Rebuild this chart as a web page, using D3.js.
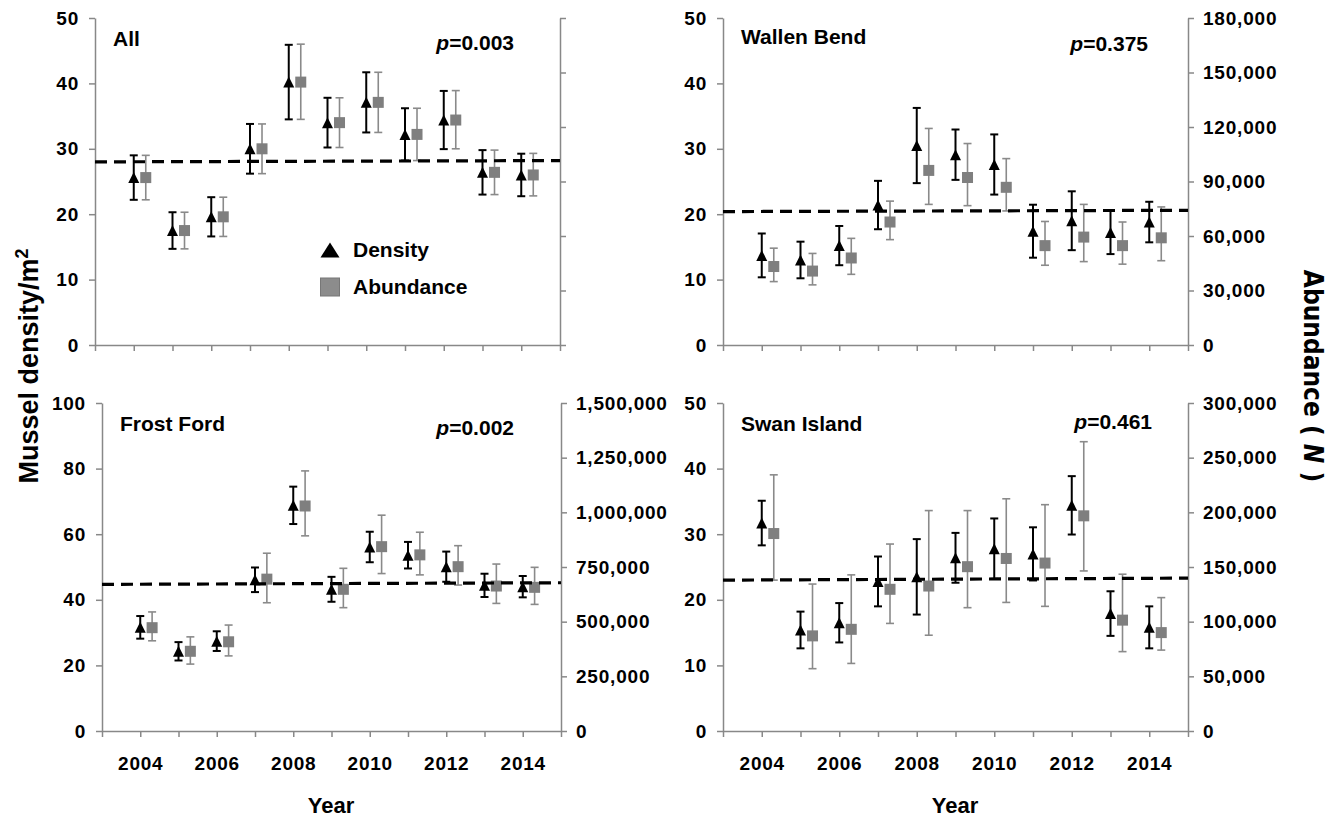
<!DOCTYPE html>
<html lang="en">
<head>
    <meta charset="UTF-8">
    <title>Mussel density and abundance, 2004-2014</title>
    <script src="https://d3js.org/d3.v7.min.js"></script>
    <style>
        body { margin: 0; background: #fff; }
        text { font-family: "Liberation Sans", Arial, sans-serif; font-weight: bold; fill: #000; }
        .axis path, .axis line { stroke: #888; stroke-width: 1.5px; }
        .axis text { font-size: 19px; letter-spacing: 0.8px; font-family: "Liberation Sans", Arial, sans-serif; font-weight: bold; fill: #000; }
    </style>
</head>
<body>
<svg width="1330" height="820"></svg>
<script>
var years = [2004, 2005, 2006, 2007, 2008, 2009, 2010, 2011, 2012, 2013, 2014];
var yearLabels = [2004, 2006, 2008, 2010, 2012, 2014];

// All sites (abundance axis has no labels, plotted on the density scale)
var allDensity   = [25.6, 17.5, 19.6, 30.0, 40.2, 34.0, 37.1, 32.2, 34.4, 26.4, 26.0];
var allDensitySE = [3.4, 2.8, 3.0, 3.8, 5.7, 3.8, 4.6, 4.0, 4.45, 3.4, 3.25];
var allAbund     = [25.6, 17.5, 19.6, 30.0, 40.2, 34.0, 37.1, 32.2, 34.4, 26.4, 26.0];
var allAbundLo   = [22.2, 14.7, 16.6, 26.2, 34.5, 30.2, 32.5, 28.2, 30.0, 23.0, 22.8];
var allAbundHi   = [29.0, 20.3, 22.6, 33.8, 46.0, 37.8, 41.7, 36.2, 38.9, 29.8, 29.3];
var allTrend     = [28.0, 28.2];

// Wallen Bend
var wbDensity   = [13.7, 13.0, 15.2, 21.4, 30.5, 29.1, 27.6, 17.4, 19.0, 17.2, 18.8];
var wbDensitySE = [3.35, 2.8, 3.0, 3.7, 5.75, 3.85, 4.6, 4.05, 4.5, 3.3, 3.1];
var wbAbund     = [43200, 40700, 47900, 67700, 96100, 92200, 86800, 54700, 59400, 54700, 59000];
var wbAbundLo   = [34900, 33100, 38900, 58000, 77400, 76700, 73800, 43900, 45900, 44500, 46400];
var wbAbundHi   = [53300, 50400, 58700, 79200, 119200, 110900, 102600, 68000, 77400, 67700, 76000];
var wbTrend     = [20.4, 20.6];

// Frost Ford
var ffDensity   = [31.6, 24.3, 27.4, 46.1, 68.8, 43.2, 56.1, 53.6, 50.1, 44.4, 44.0];
var ffDensitySE = [3.45, 2.8, 3.0, 3.75, 5.7, 3.8, 4.65, 4.05, 4.6, 3.55, 3.25];
var ffAbund     = [472500, 364500, 408000, 694500, 1029000, 648000, 843000, 805500, 751500, 663000, 657000];
var ffAbundLo   = [412500, 306000, 343500, 586500, 892500, 564000, 720000, 714000, 667500, 583500, 579000];
var ffAbundHi   = [544500, 430500, 484500, 813000, 1189500, 744000, 987000, 909000, 847500, 763500, 748500];
var ffTrend     = [44.7, 45.2];

// Swan Island
var siDensity   = [31.7, 15.4, 16.5, 22.8, 23.5, 26.4, 27.8, 27.0, 34.4, 17.9, 15.8];
var siDensitySE = [3.4, 2.8, 3.0, 3.8, 5.75, 3.8, 4.6, 4.05, 4.45, 3.4, 3.2];
var siAbund     = [180600, 87000, 93000, 129600, 132600, 150300, 157800, 153600, 196800, 101400, 90000];
var siAbundLo   = [138000, 57000, 61800, 98400, 87600, 112800, 117600, 114000, 146400, 72600, 74000];
var siAbundHi   = [234300, 134400, 142800, 171000, 201600, 201600, 212400, 207000, 264600, 143400, 122000];
var siTrend     = [23.0, 23.3];

var panels = [
    { name: "All", p: "0.003", left: 95, right: 560, top: 18, bottom: 345, yMax: 50, yStep: 10,
      rMax: 50, rLabels: false, xLabels: false, pX: 514, pY: 50, tY: 46,
      density: allDensity, se: allDensitySE, abund: allAbund, lo: allAbundLo, hi: allAbundHi, trend: allTrend },
    { name: "Wallen Bend", p: "0.375", left: 723, right: 1188, top: 18, bottom: 345, yMax: 50, yStep: 10,
      rMax: 180000, rLabels: true, xLabels: false, pX: 1148, pY: 51, tY: 44,
      density: wbDensity, se: wbDensitySE, abund: wbAbund, lo: wbAbundLo, hi: wbAbundHi, trend: wbTrend },
    { name: "Frost Ford", p: "0.002", left: 102, right: 561, top: 403, bottom: 731, yMax: 100, yStep: 20,
      rMax: 1500000, rLabels: true, xLabels: true, pX: 514, pY: 435, tY: 431,
      density: ffDensity, se: ffDensitySE, abund: ffAbund, lo: ffAbundLo, hi: ffAbundHi, trend: ffTrend },
    { name: "Swan Island", p: "0.461", left: 723, right: 1188, top: 403, bottom: 731, yMax: 50, yStep: 10,
      rMax: 300000, rLabels: true, xLabels: true, pX: 1152, pY: 429, tY: 431,
      density: siDensity, se: siDensitySE, abund: siAbund, lo: siAbundLo, hi: siAbundHi, trend: siTrend }
];

var svg = d3.select("svg");
var shift = 0.31;   // abundance drawn a little right of density
var cap = 4;

function triangle(cx, cy, w, h) {
    return "M" + cx + "," + (cy - h / 2) + "L" + (cx + w / 2) + "," + (cy + h / 2) +
           "L" + (cx - w / 2) + "," + (cy + h / 2) + "Z";
}

function errorBar(g, x, y1, y2, color, width) {
    g.append("line").attr("x1", x).attr("x2", x).attr("y1", y1).attr("y2", y2)
        .attr("stroke", color).attr("stroke-width", width);
    [y1, y2].forEach(function(yy) {
        g.append("line").attr("x1", x - cap).attr("x2", x + cap).attr("y1", yy).attr("y2", yy)
            .attr("stroke", color).attr("stroke-width", width);
    });
}

panels.forEach(function(p) {
    var x = d3.scaleLinear().domain([2003, 2015]).range([p.left, p.right]);
    var y = d3.scaleLinear().domain([0, p.yMax]).range([p.bottom, p.top]);
    var y2 = d3.scaleLinear().domain([0, p.rMax]).range([p.bottom, p.top]);

    var g = svg.append("g");

    // axes
    g.append("g").attr("class", "axis")
        .attr("transform", "translate(0," + p.bottom + ")")
        .call(d3.axisBottom(x)
            .tickValues([2003].concat(years, [2015]))
            .tickSize(6).tickSizeOuter(0).tickPadding(20)
            .tickFormat(function(d) { return p.xLabels && yearLabels.indexOf(d) >= 0 ? d : ""; }));

    g.append("g").attr("class", "axis")
        .attr("transform", "translate(" + p.left + ",0)")
        .call(d3.axisLeft(y).ticks(p.yMax / p.yStep).tickSize(6).tickSizeOuter(0).tickPadding(10));

    g.append("g").attr("class", "axis")
        .attr("transform", "translate(" + p.right + ",0)")
        .call(d3.axisRight(y2).tickValues(d3.range(0, 7).map(function(i) { return p.rMax * i / 6; }))
            .tickSize(6).tickSizeOuter(0).tickPadding(9)
            .tickFormat(function(d) { return p.rLabels ? d3.format(",")(d) : ""; }));

    // abundance error bars and markers
    years.forEach(function(yr, i) {
        var cx = x(yr + shift);
        errorBar(g, cx, y2(p.lo[i]), y2(p.hi[i]), "#8a8a8a", 1.6);
        g.append("rect").attr("x", cx - 5.5).attr("y", y2(p.abund[i]) - 5.5)
            .attr("width", 11).attr("height", 11).attr("fill", "#7f7f7f");
    });

    // density error bars and markers
    years.forEach(function(yr, i) {
        var cx = x(yr);
        errorBar(g, cx, y(p.density[i] - p.se[i]), y(p.density[i] + p.se[i]), "#000", 2);
        g.append("path").attr("d", triangle(cx, y(p.density[i]), 11, 11)).attr("fill", "#000");
    });

    // trend line
    g.append("line")
        .attr("x1", x(2003)).attr("x2", x(2015))
        .attr("y1", y(p.trend[0])).attr("y2", y(p.trend[1]))
        .attr("stroke", "#000").attr("stroke-width", 3.2).attr("stroke-dasharray", "12,7");

    // panel labels
    g.append("text").attr("x", p.left + 18).attr("y", p.tY)
        .style("font-size", "21px").text(p.name);

    var pt = g.append("text").attr("x", p.pX).attr("y", p.pY)
        .attr("text-anchor", "end").style("font-size", "21px");
    pt.append("tspan").style("font-style", "italic").text("p");
    pt.append("tspan").text("=" + p.p);

    // legend in first panel
    if (p.name === "All") {
        var lg = g.append("g");
        lg.append("path").attr("d", triangle(p.left + 235, 250, 19, 15)).attr("fill", "#000");
        lg.append("text").attr("x", p.left + 258).attr("y", 257).style("font-size", "21px").text("Density");
        lg.append("rect").attr("x", p.left + 225.5).attr("y", 278).attr("width", 19).attr("height", 18)
            .attr("fill", "#8c8c8c").attr("stroke", "#777").attr("stroke-width", 1);
        lg.append("text").attr("x", p.left + 258).attr("y", 294).style("font-size", "21px").text("Abundance");
    }
});

// axis titles
var yt = svg.append("text")
    .attr("transform", "translate(38,366) rotate(-90)")
    .attr("text-anchor", "middle").style("font-size", "27px");
yt.append("tspan").text("Mussel density/m");
yt.append("tspan").attr("dy", "-10").style("font-size", "18px").text("2");

var rt = svg.append("text")
    .attr("transform", "translate(1304,376) rotate(90)")
    .attr("text-anchor", "middle")
    .style("font-family", "'Liberation Sans Narrow', 'DejaVu Sans Condensed', sans-serif")
    .style("font-size", "26px");
rt.append("tspan").text("Abundance ( ");
rt.append("tspan").style("font-style", "italic").text("N");
rt.append("tspan").text(" )");

svg.append("text").attr("x", 331).attr("y", 813).attr("text-anchor", "middle")
    .style("font-size", "22px").text("Year");
svg.append("text").attr("x", 955).attr("y", 813).attr("text-anchor", "middle")
    .style("font-size", "22px").text("Year");
</script>
</body>
</html>
